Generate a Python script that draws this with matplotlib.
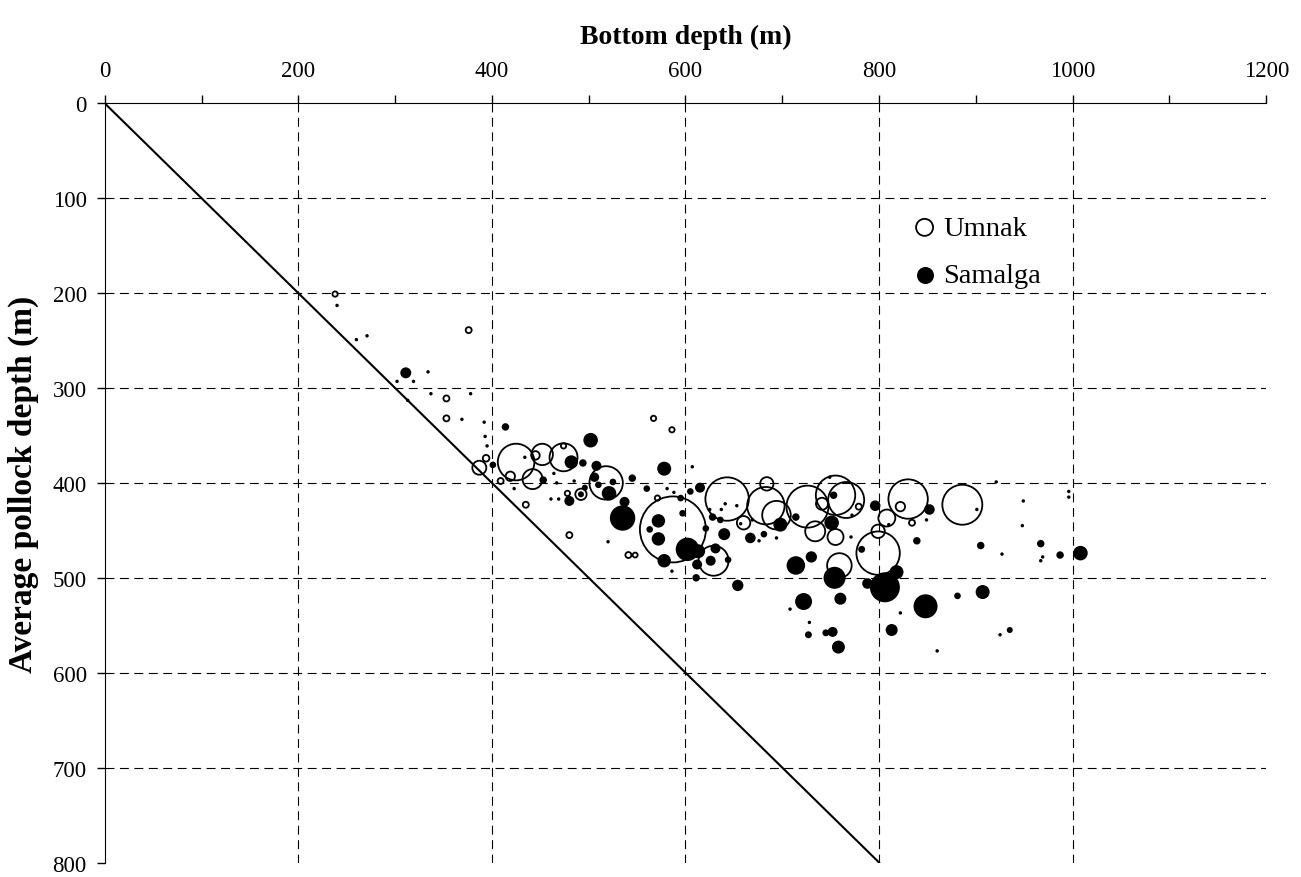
import numpy as np
import matplotlib.pyplot as plt

plt.rcParams['font.family'] = ['Liberation Serif', 'DejaVu Serif']

# Umnak tows: bottom depth, average pollock depth, catch (relative)
umnak_bottom = [238, 376, 353, 353, 567, 586, 394, 387, 425, 452, 474, 474, 445, 442, 419, 409,
                435, 478, 492, 518, 571, 587, 643, 629, 660, 684, 683, 694, 726, 734, 741, 755,
                766, 779, 755, 759, 808, 799, 799, 830, 822, 834, 886, 480, 541, 548]
umnak_depth = [201, 239, 311, 332, 332, 344, 374, 384, 378, 370, 373, 361, 371, 396, 393, 398,
               423, 411, 412, 400, 416, 449, 417, 482, 442, 401, 424, 434, 425, 451, 422, 413,
               418, 425, 457, 487, 437, 451, 474, 417, 425, 442, 423, 455, 476, 476]
umnak_catch = [7, 9, 9, 9, 7, 7, 11, 49, 335, 114, 196, 7, 18, 100, 22, 9,
               9, 7, 32, 279, 7, 1089, 471, 225, 45, 45, 350, 204, 441, 100, 36, 388,
               324, 9, 64, 151, 72, 45, 471, 388, 22, 9, 400, 9, 9, 6]

# Samalga tows
samalga_bottom = [240, 260, 271, 311, 302, 319, 334, 313, 337, 378, 369, 392, 414, 393, 395, 401,
                  434, 502, 482, 494, 453, 464, 467, 485, 423, 461, 469, 480, 492, 496, 508, 506,
                  510, 525, 521, 545, 537, 535, 560, 581, 588, 578, 607, 595, 605, 615, 572, 597,
                  563, 572, 578, 586, 611, 602, 613, 612, 621, 631, 626, 644, 625, 637, 641, 653,
                  628, 636, 640, 654, 657, 669, 667, 681, 676, 694, 698, 714, 714, 730, 751, 753,
                  749, 772, 771, 754, 796, 810, 782, 839, 849, 852, 818, 806, 788, 901, 921, 949,
                  948, 905, 927, 967, 969, 967, 987, 1008, 996, 996, 907, 881, 848, 722, 728, 727,
                  745, 752, 760, 758, 813, 822, 860, 925, 935, 708, 520]
samalga_depth = [213, 249, 245, 284, 293, 293, 283, 313, 306, 306, 333, 336, 341, 351, 361, 381,
                 373, 355, 378, 379, 397, 390, 400, 398, 406, 417, 417, 419, 412, 405, 382, 394,
                 402, 399, 411, 395, 420, 437, 406, 406, 410, 385, 383, 416, 409, 405, 440, 432,
                 449, 459, 482, 493, 500, 470, 472, 486, 448, 469, 482, 481, 428, 428, 422, 424,
                 436, 439, 454, 508, 443, 439, 458, 454, 461, 458, 444, 436, 487, 478, 442, 413,
                 394, 434, 457, 500, 424, 444, 470, 461, 439, 428, 494, 510, 506, 428, 399, 419,
                 445, 466, 475, 464, 478, 482, 476, 474, 409, 415, 515, 519, 530, 525, 547, 560,
                 558, 557, 522, 573, 555, 537, 577, 560, 555, 533, 462]
samalga_catch = [3, 3, 3, 30, 3, 3, 3, 3, 3, 3, 3, 3, 14, 3, 3, 11,
                 3, 53, 45, 14, 14, 3, 3, 3, 3, 3, 3, 25, 9, 9, 25, 22,
                 11, 11, 53, 14, 25, 161, 11, 3, 3, 49, 3, 11, 11, 25, 45, 11,
                 11, 45, 45, 3, 14, 137, 49, 25, 11, 25, 25, 11, 3, 3, 3, 3,
                 14, 11, 36, 32, 3, 3, 28, 11, 3, 3, 49, 14, 86, 32, 53, 14,
                 3, 3, 3, 121, 28, 3, 12, 14, 3, 28, 49, 225, 28, 3, 3, 3,
                 3, 14, 3, 14, 3, 3, 14, 53, 3, 3, 49, 11, 144, 72, 3, 12,
                 12, 25, 36, 42, 36, 3, 3, 3, 9, 3, 3]

one_to_one = [0, 800]

fig = plt.figure(figsize=(13.01, 8.78), dpi=100)
ax = fig.add_axes([0.0805, 0.0165, 0.8928, 0.8647])

scale = (2 * 0.72) ** 2
ax.plot(one_to_one, one_to_one, color="black", lw=1.5, zorder=2)
ax.scatter(umnak_bottom, umnak_depth, s=np.array(umnak_catch) * scale, facecolors="none",
           edgecolors="black", linewidths=1.3, zorder=3, label="Umnak")
ax.scatter(samalga_bottom, samalga_depth, s=np.array(samalga_catch) * scale, color="black",
           linewidths=0, zorder=4, label="Samalga")

ax.set_xlim(0, 1200)
ax.set_ylim(800, 0)
ax.xaxis.tick_top()
ax.xaxis.set_label_position("top")
ax.set_xticks(np.arange(0, 1201, 200))
ax.set_xticks(np.arange(100, 1200, 200), minor=True)
ax.set_yticks(np.arange(0, 801, 100))
ax.tick_params(axis="both", which="both", direction="out", length=6, width=1, labelsize=16.5)
ax.tick_params(axis="x", pad=10)
ax.tick_params(axis="y", pad=7)
ax.spines["right"].set_visible(False)
ax.spines["bottom"].set_visible(False)

for xv in range(200, 1001, 200):
    ax.axvline(xv, color="black", lw=0.8, dashes=(8, 5), zorder=1)
for yv in range(100, 701, 100):
    ax.axhline(yv, color="black", lw=0.8, dashes=(8, 5), zorder=1)

ax.set_xlabel("Bottom depth (m)", fontsize=20, fontweight="bold", labelpad=12)
ax.set_ylabel("Average pollock depth (m)", fontsize=24, fontweight="bold", labelpad=10)

leg = ax.legend(loc="upper left", bbox_to_anchor=(0.685, 0.868), frameon=False, fontsize=20.5,
                handletextpad=0.2, handlelength=0.9, labelspacing=0.75, borderaxespad=0,
                scatterpoints=1)
for h in leg.legend_handles:
    h.set_sizes([150])

fig.savefig("out.png", dpi=100)
